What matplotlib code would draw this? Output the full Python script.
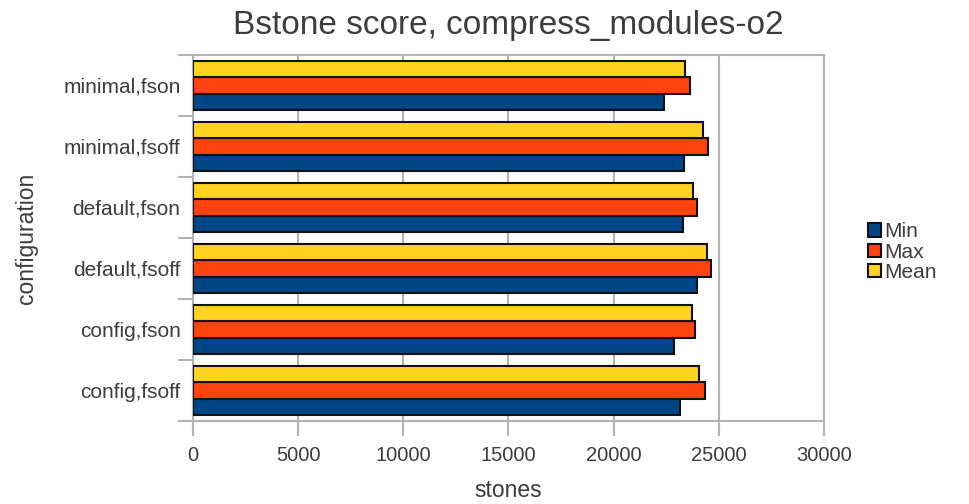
import numpy as np
import matplotlib.pyplot as plt

plt.rcParams['font.family'] = ['Liberation Sans', 'DejaVu Sans']

configs = ['config,fsoff', 'config,fson', 'default,fsoff',
           'default,fson', 'minimal,fsoff', 'minimal,fson']
min_score = [23160, 22870, 23990, 23310, 23330, 22380]
max_score = [24350, 23870, 24640, 23990, 24470, 23620]
mean_score = [24040, 23720, 24430, 23790, 24260, 23410]

grey = '#b3b3b3'
text_col = '#3c3c3c'

fig = plt.figure(figsize=(9.69, 5.04), dpi=100)
ax = fig.add_axes([0.1992, 0.1647, 0.651, 0.7262])

y = np.arange(len(configs))
h = 0.8 / 3
bar_kw = dict(height=h, edgecolor='#111111', linewidth=1.5, zorder=3)
ax.barh(y - h, min_score, color='#004586', label='Min', **bar_kw)
ax.barh(y, max_score, color='#ff420e', label='Max', **bar_kw)
ax.barh(y + h, mean_score, color='#ffd320', label='Mean', **bar_kw)

ax.set_xlim(0, 30000)
ax.set_ylim(-0.5, len(configs) - 0.5)
ax.set_xticks(np.arange(0, 30001, 5000))
ax.set_yticks(y)
ax.set_yticklabels(configs)
ax.set_yticks(np.arange(-0.5, len(configs), 1), minor=True)
ax.tick_params(axis='y', which='major', length=0, pad=9,
               labelsize=15, labelcolor=text_col)
ax.tick_params(axis='y', which='minor', length=11, width=1.5, color=grey)
ax.tick_params(axis='x', length=11, width=1.5, color=grey, pad=7,
               labelsize=14.5, labelcolor=text_col)

ax.grid(axis='x', color=grey, linewidth=1.5, zorder=0)
for side in ['left', 'bottom', 'right', 'top']:
    ax.spines[side].set_color(grey)
    ax.spines[side].set_linewidth(1.5)

ax.set_title('Bstone score, compress_modules-o2', fontsize=24,
             color=text_col, pad=15)
ax.set_xlabel('stones', fontsize=16.5, color=text_col, labelpad=10)
ax.set_ylabel('configuration', fontsize=16.5, color=text_col, labelpad=18)

handles, labels = ax.get_legend_handles_labels()
fig.legend(handles, labels, loc='center left', bbox_to_anchor=(0.896, 0.5),
           frameon=False, fontsize=15, labelcolor=text_col,
           handlelength=0.6, handleheight=0.6, handletextpad=0.15,
           labelspacing=0.05, borderaxespad=0, borderpad=0)

fig.savefig('out.png', dpi=100)
